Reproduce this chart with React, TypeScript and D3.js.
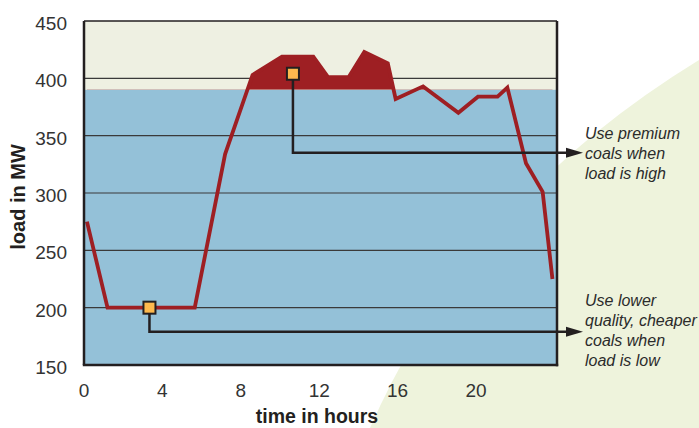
import React from 'react'
import * as d3 from 'd3'

// hourly load profile
const hours = [0.15, 1.2, 5.65, 7.2, 8.6, 10.1, 11.7, 12.45, 13.5, 14.3, 15.5, 15.9, 17.3, 19.1, 20.1, 21.1, 21.6, 22.55, 23.4, 23.9]
const loadMW = [275, 200, 200, 334, 403, 419, 419, 401, 401, 423, 413, 382, 393, 370, 384, 384, 392, 326, 301, 225]

const xTicks = [0, 4, 8, 12, 16, 20]
const yTicks = [150, 200, 250, 300, 350, 400, 450]

// load above this is served with premium coal
const premiumThreshold = 390

const callouts = [
  { hour: 10.66, load: 404, elbowLoad: 335, lines: ['Use premium', 'coals when', 'load is high'] },
  { hour: 3.34, load: 200, elbowLoad: 179, lines: ['Use lower', 'quality, cheaper', 'coals when', 'load is low'] },
]

const W = 699
const H = 428
const plotLeft = 84
const plotRight = 557
const plotTop = 21
const plotBottom = 365
const arrowTipX = 583

const font = 'Liberation Sans, Arial, sans-serif'
const dark = '#231f20'
const red = '#9e1f23'

const App: React.FC = () => {
  const x = d3.scaleLinear().domain([0, 20]).range([plotLeft, 476])
  const y = d3.scaleLinear().domain([150, 450]).range([plotBottom, plotTop])

  const points: [number, number][] = hours.map((h, i) => [h, loadMW[i]])

  const line = d3.line<[number, number]>()
    .x(d => x(d[0]))
    .y(d => y(d[1]))

  const area = d3.area<[number, number]>()
    .x(d => x(d[0]))
    .y0(y(premiumThreshold))
    .y1(d => y(d[1]))

  const yT = y(premiumThreshold)

  return (
    <div style={{ position: 'absolute', left: 0, top: 0 }}>
      <svg width={W} height={H} style={{ display: 'block' }}>
        <defs>
          <clipPath id="above">
            <rect x={plotLeft} y={plotTop} width={plotRight - plotLeft} height={yT - plotTop} />
          </clipPath>
        </defs>
        <rect x={0} y={0} width={W} height={H} fill="#ffffff" />
        {/* light green backdrop */}
        <path d={`M370,${H} Q470,200 ${W},60 L${W},${H} Z`} fill="#eef3dc" />

        {/* plot background */}
        <rect x={plotLeft} y={plotTop} width={plotRight - plotLeft} height={plotBottom - plotTop} fill="#eef0e2" />
        <rect x={plotLeft} y={yT} width={plotRight - plotLeft} height={plotBottom - yT} fill="#94c1d8" />

        {yTicks.slice(1, -1).map(t => (
          <line key={t} x1={plotLeft} x2={plotRight} y1={y(t)} y2={y(t)} stroke="#3a3a3a" strokeWidth={1.2} />
        ))}

        <path d={area(points) || ''} fill={red} clipPath="url(#above)" />
        <path d={line(points) || ''} fill="none" stroke={red} strokeWidth={3.8} strokeLinejoin="miter" />

        {/* frame */}
        <line x1={plotLeft} x2={plotRight} y1={plotTop} y2={plotTop} stroke={dark} strokeWidth={1.5} />
        <line x1={plotLeft} x2={plotLeft} y1={plotTop} y2={plotBottom} stroke={dark} strokeWidth={2.5} />
        <line x1={plotRight} x2={plotRight} y1={plotTop} y2={plotBottom + 1.2} stroke={dark} strokeWidth={2.5} />
        <line x1={plotLeft - 1.2} x2={plotRight + 1.2} y1={plotBottom} y2={plotBottom} stroke={dark} strokeWidth={2.5} />

        {/* callouts */}
        {callouts.map((c, i) => {
          const mx = x(c.hour)
          const my = y(c.load)
          const ey = y(c.elbowLoad)
          return (
            <g key={i}>
              <path d={`M${mx},${my} V${ey} H${arrowTipX - 15}`} fill="none" stroke={dark} strokeWidth={2.5} />
              <path d={`M${arrowTipX - 17},${ey - 5} L${arrowTipX},${ey} L${arrowTipX - 17},${ey + 5} Z`} fill={dark} />
              <rect x={mx - 6} y={my - 6} width={12} height={12} fill="#fdb94e" stroke={dark} strokeWidth={2} />
              <text fontFamily={font} fontStyle="italic" fontSize={16} fill="#2b2b2b">
                {c.lines.map((l, j) => (
                  <tspan key={j} x={arrowTipX + 2} y={(i === 0 ? 139 : 306) + j * 20}>{l}</tspan>
                ))}
              </text>
            </g>
          )
        })}

        {/* axes labels */}
        {yTicks.map(t => (
          <text key={t} x={67} y={y(t) + 9} textAnchor="end" fontFamily={font} fontSize={19} fill="#333">{t}</text>
        ))}
        {xTicks.map(t => (
          <text key={t} x={x(t)} y={397} textAnchor="middle" fontFamily={font} fontSize={19} fill="#333">{t}</text>
        ))}
        <text x={317} y={423} textAnchor="middle" fontFamily={font} fontWeight="bold" fontSize={19.5} fill="#231f20">time in hours</text>
        <text transform={`translate(25,${197}) rotate(-90)`} textAnchor="middle" fontFamily={font} fontWeight="bold" fontSize={20} fill="#231f20">load in MW</text>
      </svg>
    </div>
  )
}

export default App
